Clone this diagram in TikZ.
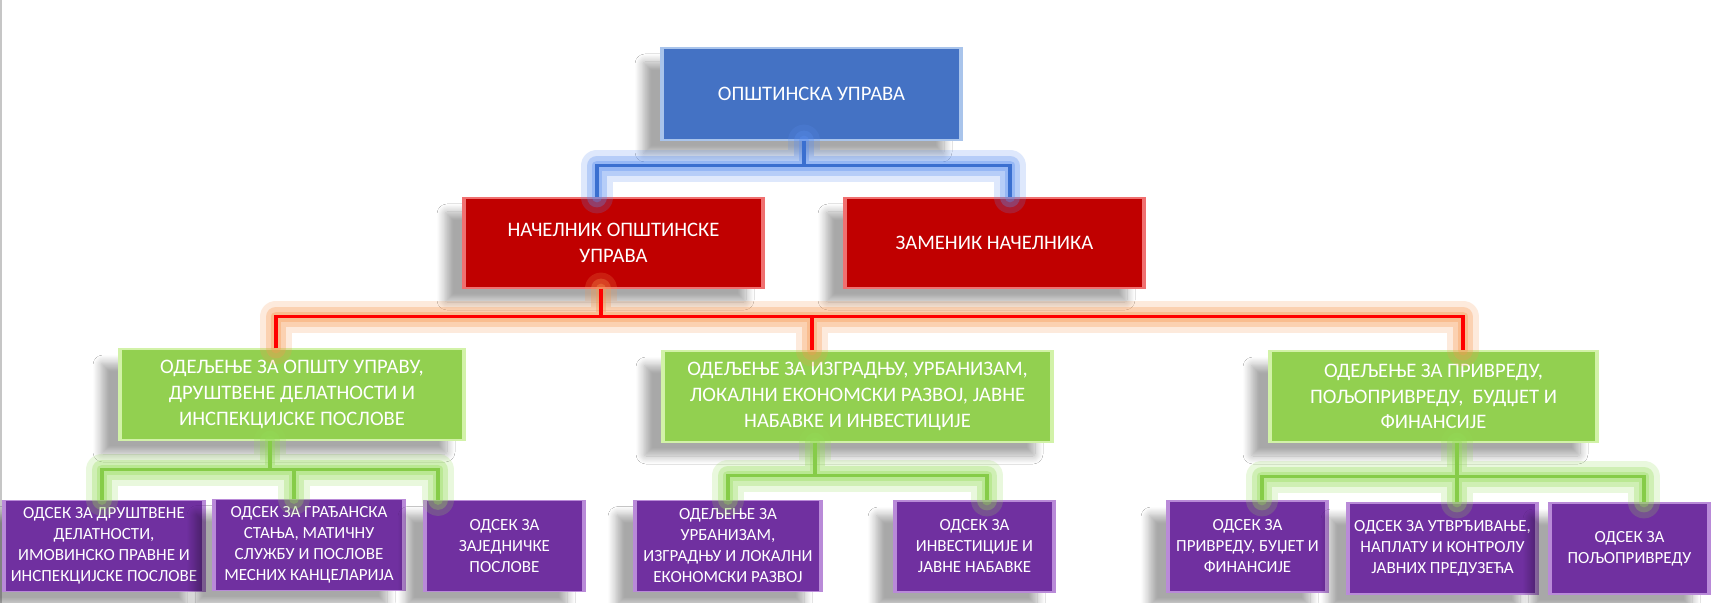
\documentclass[tikz,border=0pt]{standalone}
\usepackage{fontspec}
\setmainfont{Carlito}
\usetikzlibrary{shadows.blur}

\definecolor{boxblue}{HTML}{4472C4}
\definecolor{boxred}{HTML}{C00000}
\definecolor{boxgreen}{HTML}{92D050}
\definecolor{boxpurple}{HTML}{7030A0}
\definecolor{lineblue}{HTML}{3A6FD0}
\definecolor{glowblue}{HTML}{5B8FF0}
\definecolor{linered}{HTML}{FF0000}
\definecolor{glowred}{HTML}{F89850}
\definecolor{linegreen}{HTML}{86CC48}
\definecolor{glowgreen}{HTML}{95DC58}
\definecolor{bevelblue}{HTML}{A9C4EB}
\definecolor{bevelred}{HTML}{F07070}
\definecolor{bevelgreen}{HTML}{D2F2A8}
\definecolor{bevelpurple}{HTML}{B98AD8}

\tikzset{
    bevel/.style={path picture={
        \fill[bevel#1] (path picture bounding box.north west) rectangle ([xshift=1.6pt]path picture bounding box.south west);
        \fill[bevel#1] ([xshift=-1.6pt]path picture bounding box.north east) rectangle (path picture bounding box.south east);}},
    card/.style={rectangle, inner sep=0pt, text=white, align=center, line width=0.6pt,
        blur shadow={shadow xshift=-9pt, shadow yshift=-7pt, shadow blur radius=4pt,
            shadow blur extra rounding=1pt, shadow blur steps=12, shadow opacity=34}},
    topbox/.style={card, fill=boxblue, draw=bevelblue, bevel=blue,
        minimum height=46pt, font=\fontsize{10.3}{12.8}\selectfont},
    headbox/.style={card, fill=boxred, draw=bevelred, bevel=red,
        minimum height=45pt, font=\fontsize{10.3}{12.8}\selectfont},
    deptbox/.style={card, fill=boxgreen, draw=bevelgreen, bevel=green,
        minimum height=45.5pt, font=\fontsize{10.3}{12.8}\selectfont},
    unitbox/.style={card, fill=boxpurple, draw=bevelpurple, bevel=purple,
        minimum height=45.5pt, font=\fontsize{8.5}{10.5}\selectfont},
    wire/.style={draw=line#1, line width=1.6pt,
        preaction={draw=glow#1, line width=16pt, opacity=.2, line cap=round, line join=round},
        preaction={draw=glow#1, line width=10pt, opacity=.3, line cap=round, line join=round},
        preaction={draw=glow#1, line width=5pt, opacity=.35, line cap=round, line join=round}}
}

\begin{document}
\begin{tikzpicture}[x=0.5pt, y=-0.5pt]
    \fill[white] (0, 0) rectangle (1713, 603);
    \useasboundingbox (0, 0) rectangle (1713, 603);
    \draw[gray!45, line width=1pt] (1, 0) -- (1, 603);

    % top
    \node (0) at (811.5, 94) [topbox, minimum width=150.5pt] {ОПШТИНСКА УПРАВА};

    % heads
    \node (1) at (613.5, 243) [headbox, minimum width=150.5pt] {НАЧЕЛНИК ОПШТИНСКЕ\\УПРАВА};
    \node (2) at (994.5, 243) [headbox, minimum width=150.5pt] {ЗАМЕНИК НАЧЕЛНИКА};

    % departments
    \node (3) at (292, 394.5) [deptbox, minimum width=173pt] {ОДЕЉЕЊЕ ЗА ОПШТУ УПРАВУ,\\ДРУШТВЕНЕ ДЕЛАТНОСТИ И\\ИНСПЕКЦИЈСКЕ ПОСЛОВЕ};
    \node (4) at (857.5, 396.5) [deptbox, minimum width=195.5pt] {ОДЕЉЕЊЕ ЗА ИЗГРАДЊУ, УРБАНИЗАМ,\\ЛОКАЛНИ ЕКОНОМСКИ РАЗВОЈ, ЈАВНЕ\\НАБАВКЕ И ИНВЕСТИЦИЈЕ};
    \node (5) at (1433.5, 396.5) [deptbox, minimum width=164.5pt] {ОДЕЉЕЊЕ ЗА ПРИВРЕДУ,\\ПОЉОПРИВРЕДУ, \ БУДЏЕТ И\\ФИНАНСИЈЕ};

    % units
    \node (6) at (104, 546) [unitbox, minimum width=101pt] {ОДСЕК ЗА ДРУШТВЕНЕ\\ДЕЛАТНОСТИ,\\ИМОВИНСКО ПРАВНЕ И\\ИНСПЕКЦИЈСКЕ ПОСЛОВЕ};
    \node (7) at (309, 545) [unitbox, minimum width=96pt] {ОДСЕК ЗА ГРАЂАНСКА\\СТАЊА, МАТИЧНУ\\СЛУЖБУ И ПОСЛОВЕ\\МЕСНИХ КАНЦЕЛАРИЈА};
    \node (8) at (504.5, 546) [unitbox, minimum width=80.5pt] {ОДСЕК ЗА\\ЗАЈЕДНИЧКЕ\\ПОСЛОВЕ};
    \node (9) at (728, 546) [unitbox, minimum width=94pt] {ОДЕЉЕЊЕ ЗА\\УРБАНИЗАМ,\\ИЗГРАДЊУ И ЛОКАЛНИ\\ЕКОНОМСКИ РАЗВОЈ};
    \node (10) at (974.5, 546.5) [unitbox, minimum width=80.5pt] {ОДСЕК ЗА\\ИНВЕСТИЦИЈЕ И\\ЈАВНЕ НАБАВКЕ};
    \node (11) at (1247.5, 546.5) [unitbox, minimum width=80.5pt] {ОДСЕК ЗА\\ПРИВРЕДУ, БУЏЕТ И\\ФИНАНСИЈЕ};
    \node (12) at (1442.5, 548.5) [unitbox, minimum width=95.5pt] {ОДСЕК ЗА УТВРЂИВАЊЕ,\\НАПЛАТУ И КОНТРОЛУ\\ЈАВНИХ ПРЕДУЗЕЋА};
    \node (13) at (1629.5, 548.5) [unitbox, minimum width=80.5pt] {ОДСЕК ЗА\\ПОЉОПРИВРЕДУ};

    % branch points
    \coordinate (b0) at ([shift={(-7.5, 25)}]0.south);
    \coordinate (b1) at ([shift={(-12.5, 28)}]1.south);
    \coordinate (b3) at ([shift={(-22, 29)}]3.south);
    \coordinate (b4) at ([shift={(-42.5, 33)}]4.south);
    \coordinate (b5) at ([shift={(23.5, 34)}]5.south);

    \draw[wire=blue] ([shift={(-16.5, 0)}]1.north) |- (b0) -| ([shift={(15.5, 0)}]2.north)
        ([shift={(-7.5, 0)}]0.south) -- (b0);
    \draw[wire=red] ([shift={(-16, 0)}]3.north) |- (b1) -| ([shift={(29.5, 0)}]5.north)
        ([shift={(-45.5, 0)}]4.north) |- (b1)
        ([shift={(-12.5, 0)}]1.south) -- (b1);
    \draw[wire=green] ([shift={(-2, 0)}]6.north) |- (b3) -| ([shift={(-66.5, 0)}]8.north)
        ([shift={(-15, 0)}]7.north) |- (b3)
        ([shift={(-22, 0)}]3.south) -- (b3);
    \draw[wire=green] (9.north) |- (b4) -| ([shift={(12.5, 0)}]10.north)
        ([shift={(-42.5, 0)}]4.south) -- (b4);
    \draw[wire=green] ([shift={(14.5, 0)}]11.north) |- (b5) -| ([shift={(14.5, 0)}]13.north)
        ([shift={(14.5, 0)}]12.north) |- (b5)
        ([shift={(23.5, 0)}]5.south) -- (b5);
\end{tikzpicture}
\end{document}
